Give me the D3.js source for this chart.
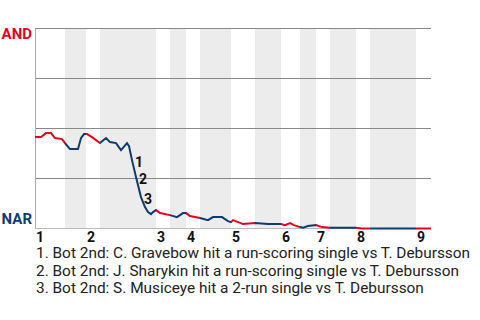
<!DOCTYPE html>
<html>
<head>
<meta charset="utf-8">
<script src="https://cdn.jsdelivr.net/npm/d3@7"></script>
<style>
  body { margin: 0; background: #fff; }
  svg { font-family: Roboto, sans-serif; }
</style>
</head>
<body>
<svg width="480" height="320"></svg>
<script>
// game data: x is play index, y is AND win probability
const innings = ['1', '2', '3', '4', '5', '6', '7', '8', '9'];
const topStarts = [0, 10.95, 25.97, 32.41, 42.07, 52.80, 60.32, 68.90, 81.78];
const botStarts = [6.44, 13.95, 28.98, 35.42, 47.22, 56.88, 63.32, 71.91];
const lastPlay = 85;

const plays = [0, 1.29, 2.36, 3.43, 4.29, 5.80, 6.44, 7.51, 9.23, 9.87, 10.52, 11.16, 12.23,
  13.95, 15.24, 16.10, 17.39, 18.46, 19.75, 20.18, 20.82, 21.68, 22.75, 23.61, 24.26, 24.90,
  25.33, 25.97, 26.83, 28.98, 30.48, 31.77, 32.41, 33.27, 35.42, 37.13, 38.21, 40.14, 41.43,
  42.07, 42.50, 44.65, 47.22, 50.01, 51.52, 52.80, 53.66, 54.74, 55.59, 56.88, 57.53, 58.60,
  60.32, 61.60, 63.32, 68.90, 70.19, 85];
const winProb = [0.457, 0.457, 0.477, 0.477, 0.452, 0.447, 0.427, 0.397, 0.397, 0.452, 0.472,
  0.472, 0.457, 0.427, 0.452, 0.432, 0.427, 0.392, 0.427, 0.412, 0.342, 0.257, 0.157, 0.107,
  0.082, 0.072, 0.082, 0.092, 0.077, 0.067, 0.057, 0.077, 0.077, 0.062, 0.052, 0.042, 0.057,
  0.057, 0.037, 0.032, 0.042, 0.022, 0.027, 0.022, 0.022, 0.022, 0.017, 0.027, 0.017, 0.007,
  0.004, 0.012, 0.017, 0.007, 0.004, 0.004, 0, 0];

const eventIdx = [20, 21, 22];
const eventLabels = ['1', '2', '3'];
const notes = [
  '1. Bot 2nd: C. Gravebow hit a run-scoring single vs T. Debursson',
  '2. Bot 2nd: J. Sharykin hit a run-scoring single vs T. Debursson',
  '3. Bot 2nd: S. Musiceye hit a 2-run single vs T. Debursson'
];

const red = '#e8001c';
const blue = '#0c3b72';

const svg = d3.select('svg');
const x = d3.scaleLinear().domain([0, lastPlay]).range([35, 431]);
const y = d3.scaleLinear().domain([0, 1]).range([228.5, 28.5]);

// shaded bottom halves
svg.selectAll('.band')
  .data(botStarts)
  .join('rect')
  .attr('class', 'band')
  .attr('x', (d, i) => x(d))
  .attr('y', y(1))
  .attr('width', (d, i) => x(topStarts[i + 1]) - x(d))
  .attr('height', y(0) - y(1))
  .attr('fill', '#ececec');

// grid lines
svg.selectAll('.grid')
  .data([0.25, 0.5, 0.75, 1])
  .join('line')
  .attr('x1', x(0)).attr('x2', x(lastPlay))
  .attr('y1', d => y(d)).attr('y2', d => y(d))
  .attr('stroke', '#888');

svg.append('line')
  .attr('x1', x(0)).attr('x2', x(lastPlay))
  .attr('y1', y(0)).attr('y2', y(0))
  .attr('stroke', '#bbb');
svg.append('line')
  .attr('x1', x(0) + 0.5).attr('x2', x(0) + 0.5)
  .attr('y1', y(1)).attr('y2', y(0))
  .attr('stroke', '#aaa');

// clip paths: top halves red, bottom halves blue
const defs = svg.append('defs');
const topClip = defs.append('clipPath').attr('id', 'topClip');
topStarts.forEach((s, i) => {
  const e = i < botStarts.length ? botStarts[i] : lastPlay;
  topClip.append('rect').attr('x', x(s)).attr('y', 0)
    .attr('width', x(e) - x(s)).attr('height', 320);
});
const botClip = defs.append('clipPath').attr('id', 'botClip');
botStarts.forEach((s, i) => {
  botClip.append('rect').attr('x', x(s)).attr('y', 0)
    .attr('width', x(topStarts[i + 1]) - x(s)).attr('height', 320);
});

const pts = plays.map((p, i) => [p, winProb[i]]);
const line = d3.line().x(d => x(d[0])).y(d => y(d[1]));

svg.append('path').datum(pts)
  .attr('d', line).attr('fill', 'none')
  .attr('stroke', red).attr('stroke-width', 2)
  .attr('clip-path', 'url(#topClip)');
svg.append('path').datum(pts)
  .attr('d', line).attr('fill', 'none')
  .attr('stroke', blue).attr('stroke-width', 2)
  .attr('clip-path', 'url(#botClip)');

// event markers
svg.selectAll('.ev')
  .data(eventIdx)
  .join('text')
  .attr('x', d => x(plays[d]) + 3)
  .attr('y', d => y(winProb[d]) + 7)
  .attr('font-size', 14).attr('font-weight', 'bold').attr('fill', '#111')
  .text((d, i) => eventLabels[i]);

// team labels
svg.append('text').attr('x', 32).attr('y', 39).attr('text-anchor', 'end')
  .attr('font-size', 15).attr('font-weight', 'bold').attr('fill', red).text('AND');
svg.append('text').attr('x', 32).attr('y', 224).attr('text-anchor', 'end')
  .attr('font-size', 15).attr('font-weight', 'bold').attr('fill', blue).text('NAR');

// inning labels
svg.selectAll('.inn')
  .data(innings)
  .join('text')
  .attr('x', (d, i) => x(topStarts[i]) + 1)
  .attr('y', 242)
  .attr('font-size', 14).attr('font-weight', 'bold').attr('fill', '#111')
  .text(d => d);

// notes
svg.selectAll('.note')
  .data(notes)
  .join('text')
  .attr('x', 36)
  .attr('y', (d, i) => 258 + i * 17.5)
  .attr('font-size', 15.4).attr('fill', '#222')
  .text(d => d);
</script>
</body>
</html>
